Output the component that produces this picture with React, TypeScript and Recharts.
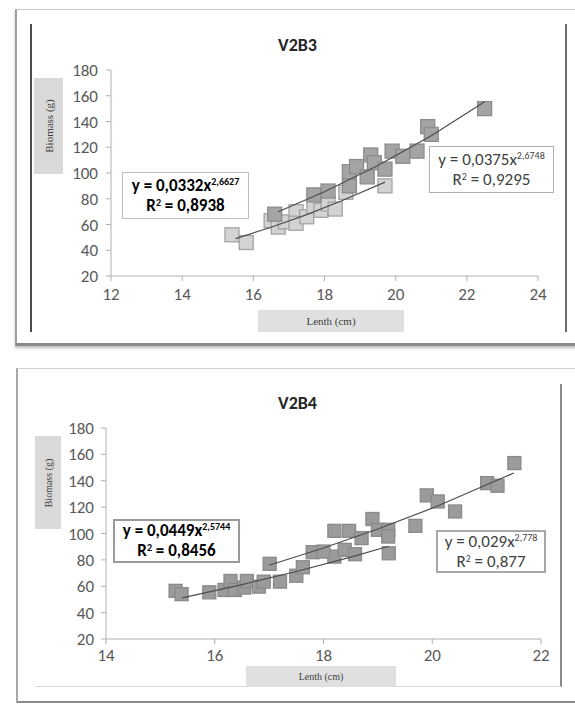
import React from "react";
import { ScatterChart, Scatter, XAxis, YAxis } from "recharts";

// ---------- V2B3 data ----------
const v2b3Light: [number, number][] = [
  [15.4, 52], [15.8, 46], [16.5, 63], [16.7, 58], [16.9, 62], [17.2, 70], [17.2, 61],
  [17.5, 66], [17.7, 74], [17.9, 71], [18.1, 76], [18.3, 72], [18.6, 85], [19.7, 90],
];
const v2b3Dark: [number, number][] = [
  [16.6, 68], [17.7, 83], [18.1, 86], [18.7, 101], [18.9, 105], [18.7, 90], [19.2, 97],
  [19.3, 114], [19.4, 108], [19.7, 103], [19.9, 117], [20.2, 113], [20.6, 117],
  [20.9, 136], [21.0, 130], [22.5, 150],
];
const v2b3TrendLight: [number, number][] = [[15.5, 49], [16.5, 57.9], [17.5, 67.7], [18.5, 78.6], [19.7, 92.9]];
const v2b3TrendDark: [number, number][] = [[16.7, 69.9], [18, 85.4], [19.5, 105.8], [21, 128.9], [22.5, 155.3]];
const v2b3XTicks = [12, 14, 16, 18, 20, 22, 24];

// ---------- V2B4 data ----------
const v2b4Low: [number, number][] = [
  [15.28, 56.5], [15.39, 54], [15.9, 55.4], [16.18, 57.2], [16.29, 64], [16.37, 57.2],
  [16.54, 59], [16.59, 64], [16.81, 59.7], [16.9, 63.5], [17.2, 63.5], [17.5, 68],
  [17.62, 74.4], [18.2, 82.5], [18.39, 87.6], [18.58, 84.3], [19.2, 85],
];
const v2b4High: [number, number][] = [
  [17.01, 77], [17.8, 85.8], [18.0, 86.3], [18.2, 102], [18.47, 102], [18.7, 96.5],
  [18.9, 111], [19.0, 102.8], [19.19, 102.8], [19.19, 97.7], [19.69, 105.8],
  [19.9, 128.9], [20.1, 124.3], [20.42, 116.7], [21.01, 138.2], [21.2, 136.2], [21.51, 153.4],
];
const v2b4TrendLow: [number, number][] = [[15.4, 51.2], [16.5, 61.2], [17.5, 71.2], [18.5, 82.1], [19.2, 90.3]];
const v2b4TrendHigh: [number, number][] = [[17, 75.9], [18, 89], [19, 103.4], [20, 119.2], [21.5, 145.9]];
const v2b4XTicks = [14, 16, 18, 20, 22];

const yTicks = [20, 40, 60, 80, 100, 120, 140, 160, 180];

const FONT = "Carlito, Lato, 'Open Sans', sans-serif";
const toPts = (a: [number, number][]) => a.map(([x, y]) => ({ x, y }));

const square = (fill: string, stroke: string, size: number) => (props: any) => {
  const { cx, cy } = props;
  if (cx == null || cy == null) return <g />;
  return (
    <rect x={cx - size / 2} y={cy - size / 2} width={size} height={size} fill={fill} stroke={stroke} strokeWidth={1.3} />
  );
};
const noShape = () => <g />;

const tickStyle = { fill: "#595959", fontSize: 17, fontFamily: FONT };

const abs = (s: React.CSSProperties): React.CSSProperties => ({ position: "absolute", boxSizing: "border-box", ...s });

function EqBox(props: { left: number; top: number; w: number; h: number; coef: string; exp: string; r2: string; bold?: boolean; border: string }) {
  const { left, top, w, h, coef, exp, r2, bold, border } = props;
  return (
    <div
      style={abs({
        left, top, width: w, height: h, border, background: "#fff",
        display: "flex", flexDirection: "column", justifyContent: "center", alignItems: "center",
        fontFamily: FONT, fontWeight: bold ? 700 : 400, fontSize: 17, color: bold ? "#000" : "#404040",
        lineHeight: "20px",
      })}
    >
      <div style={{ whiteSpace: "nowrap" }}>
        y = {coef}x<sup style={{ fontSize: 10, verticalAlign: "6px", lineHeight: 0 }}>{exp}</sup>
      </div>
      <div style={{ whiteSpace: "nowrap" }}>
        R<sup style={{ fontSize: 10, verticalAlign: "5px", lineHeight: 0 }}>2</sup> = {r2}
      </div>
    </div>
  );
}

function YLabel(props: { left: number; top: number; w: number; h: number; size: number }) {
  const { left, top, w, h, size } = props;
  return (
    <div style={abs({ left, top, width: w, height: h, background: "#d9d9d9" })}>
      <div
        style={{
          position: "absolute", left: "50%", top: "50%", transform: "translate(-50%,-50%) rotate(-90deg)",
          fontFamily: "'Liberation Serif', 'DejaVu Serif', serif", fontSize: size, color: "#404040", whiteSpace: "nowrap",
        }}
      >
        Biomass (g)
      </div>
    </div>
  );
}

function XLabel(props: { left: number; top: number; w: number; h: number; size: number }) {
  const { left, top, w, h, size } = props;
  return (
    <div
      style={abs({
        left, top, width: w, height: h, background: "#e0e0e0", display: "flex", alignItems: "center", justifyContent: "center",
        fontFamily: "'Liberation Serif', 'DejaVu Serif', serif", fontSize: size, color: "#404040", whiteSpace: "nowrap",
      })}
    >
      Lenth (cm)
    </div>
  );
}

export default function App() {
  return (
    <div style={{ position: "absolute", left: 0, top: 0, width: 575, height: 704, background: "#fff", overflow: "hidden" }}>
      {/* ===== Top panel frame ===== */}
      <div style={abs({ left: 15, top: 9, width: 575, height: 337, borderTop: "1px solid #c8c8c8", borderLeft: "2px solid #a0a0a0", borderBottom: "3px solid #8a8a8a", boxShadow: "0 2px 3px #bbb" })} />
      <div style={abs({ left: 30, top: 24, width: 2, height: 308, background: "#4a4a4a" })} />
      <div style={abs({ left: 565, top: 24, width: 2, height: 308, background: "#6a6a6a" })} />

      <div style={abs({ left: 0, top: 0, width: 575, height: 352 })}>
        <ScatterChart width={575} height={352} margin={{ top: 70, right: 37, bottom: 46, left: 51 }}>
          <XAxis
            type="number" dataKey="x" domain={[12, 24]} ticks={v2b3XTicks} height={30}
            axisLine={{ stroke: "#b0b0b0" }} tickLine={{ stroke: "#b0b0b0" }} tickSize={5} tickMargin={7}
            tick={tickStyle} allowDataOverflow
          />
          <YAxis
            type="number" dataKey="y" domain={[20, 180]} ticks={yTicks} width={60}
            axisLine={{ stroke: "#b0b0b0" }} tickLine={{ stroke: "#b0b0b0" }} tickSize={5} tickMargin={8}
            tick={tickStyle} allowDataOverflow
          />
          <Scatter data={toPts(v2b3Light)} shape={square("#d3d3d3", "#a3a3a3", 14)} isAnimationActive={false} />
          <Scatter data={toPts(v2b3Dark)} shape={square("#a4a4a4", "#8c8c8c", 14)} isAnimationActive={false} />
          <Scatter data={toPts(v2b3TrendLight)} shape={noShape} line={{ stroke: "#4d4d4d", strokeWidth: 1.2 }} isAnimationActive={false} />
          <Scatter data={toPts(v2b3TrendDark)} shape={noShape} line={{ stroke: "#4d4d4d", strokeWidth: 1.2 }} isAnimationActive={false} />
        </ScatterChart>
      </div>
      <div style={abs({ left: 0, top: 34, width: 575, textAlign: "center", fontFamily: FONT, fontWeight: 700, fontSize: 18, color: "#262626", paddingLeft: 20 })}>
        V2B3
      </div>
      <YLabel left={34} top={78} w={29} h={96} size={11} />
      <XLabel left={258} top={310} w={146} h={22} size={11} />
      <EqBox left={122} top={172} w={127} h={47} coef="0,0332" exp="2,6627" r2="0,8938" bold border="1px solid #c0c0c0" />
      <EqBox left={429} top={146} w={125} h={47} coef="0,0375" exp="2,6748" r2="0,9295" border="1px solid #b0b0b0" />

      {/* ===== Bottom panel frame ===== */}
      <div style={abs({ left: 16, top: 368, width: 575, height: 335, borderTop: "1px solid #d0d0d0", borderLeft: "2px solid #a8a8a8", borderBottom: "2px solid #8a8a8a" })} />
      <div style={abs({ left: 560, top: 384, width: 2, height: 303, background: "#8a8a8a" })} />
      <div style={abs({ left: 35, top: 686, width: 526, height: 1, background: "#d8d8d8" })} />

      <div style={abs({ left: 0, top: 352, width: 575, height: 352 })}>
        <ScatterChart width={575} height={352} margin={{ top: 76, right: 34, bottom: 35, left: 46 }}>
          <XAxis
            type="number" dataKey="x" domain={[14, 22]} ticks={v2b4XTicks} height={30}
            axisLine={{ stroke: "#b0b0b0" }} tickLine={{ stroke: "#b0b0b0" }} tickSize={5} tickMargin={5}
            tick={tickStyle} allowDataOverflow
          />
          <YAxis
            type="number" dataKey="y" domain={[20, 180]} ticks={yTicks} width={60}
            axisLine={{ stroke: "#b0b0b0" }} tickLine={{ stroke: "#b0b0b0" }} tickSize={5} tickMargin={7}
            tick={tickStyle} allowDataOverflow
          />
          <Scatter data={toPts(v2b4Low)} shape={square("#9b9b9b", "#8a8a8a", 13)} isAnimationActive={false} />
          <Scatter data={toPts(v2b4High)} shape={square("#9b9b9b", "#8a8a8a", 13)} isAnimationActive={false} />
          <Scatter data={toPts(v2b4TrendLow)} shape={noShape} line={{ stroke: "#4d4d4d", strokeWidth: 1.2 }} isAnimationActive={false} />
          <Scatter data={toPts(v2b4TrendHigh)} shape={noShape} line={{ stroke: "#4d4d4d", strokeWidth: 1.2 }} isAnimationActive={false} />
        </ScatterChart>
      </div>
      <div style={abs({ left: 0, top: 392, width: 575, textAlign: "center", fontFamily: FONT, fontWeight: 700, fontSize: 18, color: "#262626", paddingLeft: 20 })}>
        V2B4
      </div>
      <YLabel left={35} top={436} w={26} h={93} size={10} />
      <XLabel left={246} top={666} w={150} h={21} size={10} />
      <EqBox left={113} top={519} w={127} h={44} coef="0,0449" exp="2,5744" r2="0,8456" bold border="2px solid #9a9a9a" />
      <EqBox left={436} top={530} w={110} h={43} coef="0,029" exp="2,778" r2="0,877" border="2px solid #a8a8a8" />
    </div>
  );
}
